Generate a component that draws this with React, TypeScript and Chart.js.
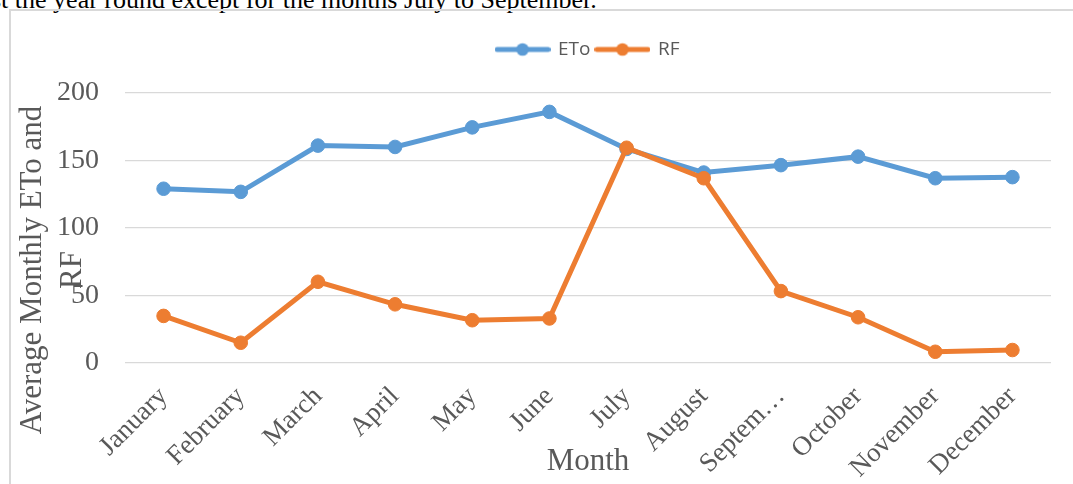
import React, { useEffect, useRef } from 'react';
import { Chart, registerables } from 'chart.js';

Chart.register(...registerables);

// ---- data ----
const months = ['January', 'February', 'March', 'April', 'May', 'June', 'July', 'August', 'September', 'October', 'November', 'December'];
const monthTickLabels = ['January', 'February', 'March', 'April', 'May', 'June', 'July', 'August', 'Septem…', 'October', 'November', 'December'];
const etoValues = [129, 126.7, 161, 160, 174.5, 186, 158.5, 141, 146.5, 152.8, 136.8, 137.6];
const rfValues = [34.7, 14.8, 60, 43.3, 31.5, 32.8, 159.4, 136.8, 53.1, 33.7, 8.1, 9.4];
const seriesNames = ['ETo', 'RF'];
const seriesColors = ['#5B9BD5', '#ED7D31'];
const yMin = 0;
const yMax = 200;
const yStep = 50;
const yTitleLines = ['Average Monthly ETo and', 'RF'];
const xTitle = 'Month';
const noteText = 'st the year round except for the months July to September.';

const GRAY_TEXT = '#595959';
const SERIF = "'Liberation Serif', 'Times New Roman', serif";

function makeLegendSymbol(color: string): HTMLCanvasElement {
  const c = document.createElement('canvas');
  c.width = 56;
  c.height = 16;
  const g = c.getContext('2d')!;
  g.strokeStyle = color;
  g.lineWidth = 5;
  g.lineCap = 'round';
  g.beginPath();
  g.moveTo(2.5, 8);
  g.lineTo(53.5, 8);
  g.stroke();
  g.fillStyle = color;
  g.beginPath();
  g.arc(28, 8, 6.3, 0, Math.PI * 2);
  g.fill();
  return c;
}

const yTitlePlugin = {
  id: 'yTitleCustom',
  afterDraw(chart: any) {
    const ctx = chart.ctx as CanvasRenderingContext2D;
    ctx.save();
    ctx.font = `31px ${SERIF}`;
    ctx.fillStyle = GRAY_TEXT;
    ctx.translate(41, 270);
    ctx.rotate(-Math.PI / 2);
    ctx.textAlign = 'center';
    ctx.textBaseline = 'alphabetic';
    yTitleLines.forEach((line, i) => ctx.fillText(line, 0, i * 40));
    ctx.restore();
  },
};

const legendSpacer = {
  id: 'legendSpacer',
  beforeInit(chart: any) {
    if (!chart.legend) return;
    const origFit = chart.legend.fit;
    chart.legend.fit = function () {
      origFit.call(this);
      this.height += 24;
    };
  },
};

export default function App() {
  const canvasRef = useRef<HTMLCanvasElement | null>(null);

  useEffect(() => {
    if (!canvasRef.current) return;
    const symbols = seriesColors.map(makeLegendSymbol);
    const chart = new Chart(canvasRef.current, {
      type: 'line',
      data: {
        labels: months,
        datasets: [
          {
            label: seriesNames[0],
            data: etoValues,
            borderColor: seriesColors[0],
            backgroundColor: seriesColors[0],
            borderWidth: 5,
            pointRadius: 6.8,
            pointBorderWidth: 1,
            pointBackgroundColor: seriesColors[0],
            pointBorderColor: seriesColors[0],
            tension: 0,
            order: 1,
          },
          {
            label: seriesNames[1],
            data: rfValues,
            borderColor: seriesColors[1],
            backgroundColor: seriesColors[1],
            borderWidth: 5,
            pointRadius: 6.8,
            pointBorderWidth: 1,
            pointBackgroundColor: seriesColors[1],
            pointBorderColor: seriesColors[1],
            tension: 0,
            order: 0,
          },
        ],
      },
      options: {
        responsive: false,
        animation: false,
        devicePixelRatio: 1,
        layout: { padding: { top: 34, left: 0, right: 22, bottom: 0 } },
        plugins: {
          tooltip: { enabled: false },
          title: { display: false },
          legend: {
            display: true,
            position: 'top',
            fullSize: false,
            labels: {
              usePointStyle: true,
              pointStyleWidth: 52,
              padding: 6,
              color: GRAY_TEXT,
              font: { family: "'Open Sans', sans-serif", size: 19 },
              generateLabels: () =>
                seriesNames.map((name, i) => ({
                  text: name,
                  fillStyle: seriesColors[i],
                  strokeStyle: seriesColors[i],
                  lineWidth: 0,
                  pointStyle: symbols[i] as any,
                  hidden: false,
                  datasetIndex: i,
                  fontColor: GRAY_TEXT,
                })),
            },
          },
        },
        scales: {
          x: {
            type: 'category',
            offset: true,
            grid: { display: false },
            border: { display: false },
            ticks: {
              autoSkip: false,
              minRotation: 45,
              maxRotation: 45,
              padding: 10,
              color: GRAY_TEXT,
              font: { family: SERIF, size: 27 },
              callback: (_v: any, i: number) => monthTickLabels[i],
            },
            title: {
              display: true,
              text: xTitle,
              color: GRAY_TEXT,
              font: { family: SERIF, size: 31 },
              padding: { top: 0, bottom: 4 },
            },
            afterFit: (scale: any) => {
              scale.height = 121.3;
            },
          },
          y: {
            min: yMin,
            max: yMax,
            grid: { color: '#D9D9D9', lineWidth: 1.3, drawTicks: false },
            border: { display: false },
            ticks: {
              stepSize: yStep,
              padding: 26,
              color: GRAY_TEXT,
              font: { family: SERIF, size: 28 },
            },
            afterFit: (scale: any) => {
              scale.width = 125;
            },
          },
        },
      },
      plugins: [legendSpacer, yTitlePlugin],
    });
    return () => chart.destroy();
  }, []);

  return (
    <div
      style={{
        position: 'fixed',
        left: 0,
        top: 0,
        width: 1073,
        height: 484,
        overflow: 'hidden',
        background: '#ffffff',
      }}
    >
      <div
        style={{
          position: 'absolute',
          left: -9,
          top: -13,
          font: `26px ${SERIF}`,
          lineHeight: '26px',
          whiteSpace: 'nowrap',
          color: '#000000',
        }}
      >
        {noteText}
      </div>
      <div
        style={{
          position: 'absolute',
          left: 9,
          top: 9,
          width: 1100,
          height: 500,
          borderLeft: '2px solid #D9D9D9',
          borderTop: '2px solid #D9D9D9',
        }}
      />
      <canvas
        ref={canvasRef}
        width={1073}
        height={484}
        style={{ position: 'absolute', left: 0, top: 0, width: 1073, height: 484 }}
      />
    </div>
  );
}
